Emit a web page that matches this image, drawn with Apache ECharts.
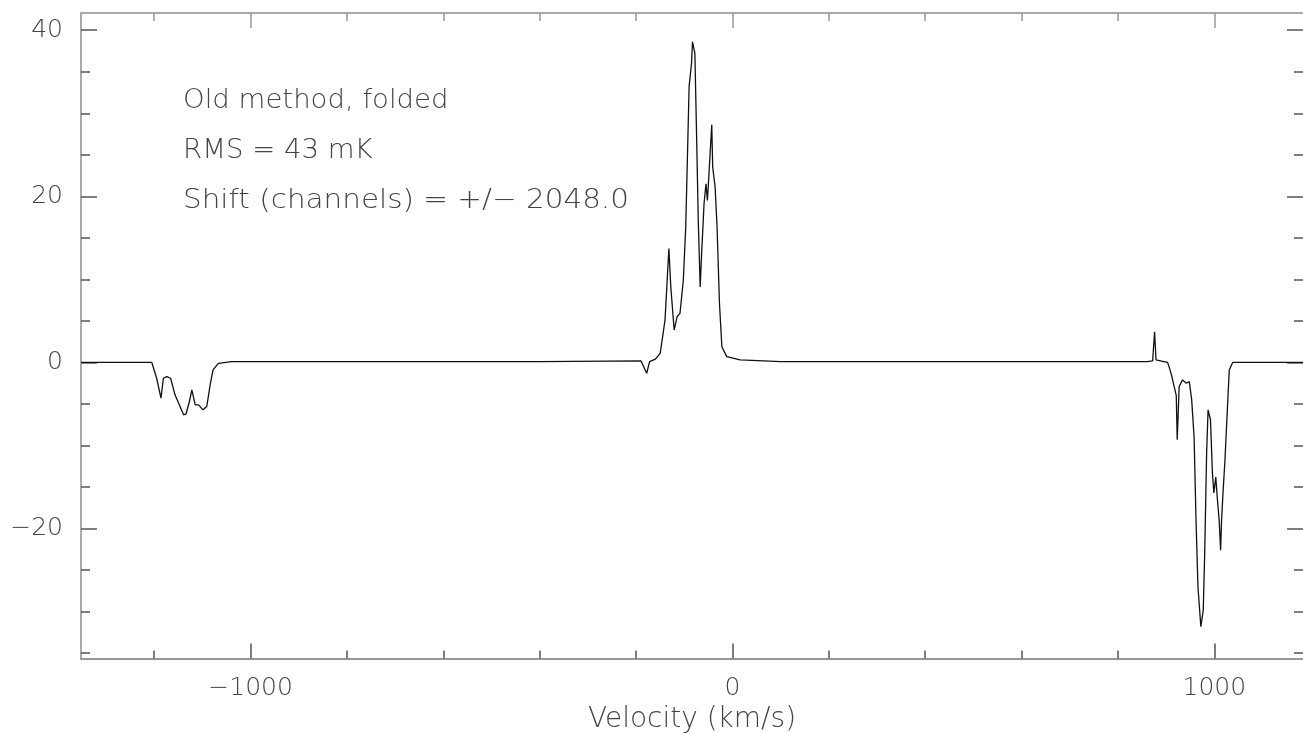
<!DOCTYPE html>
<html>
<head>
<meta charset="utf-8">
<script src="https://cdn.jsdelivr.net/npm/echarts@6/dist/echarts.min.js"></script>
<style>
  html, body { margin: 0; padding: 0; background: #fff; }
  #chart { width: 1303px; height: 733px; }
</style>
</head>
<body>
<div id="chart"></div>
<script>
// spectrum: velocity (km/s) and brightness
const velocity = [
  -1352, -1300, -1250, -1205, -1195, -1186, -1181, -1174, -1166, -1157,
  -1139, -1134, -1127, -1122, -1115, -1108, -1099, -1091, -1084, -1078,
  -1067, -1040, -900, -600, -400, -190, -178, -172, -160, -150,
  -140, -132, -128, -121, -115, -109, -102, -97, -93, -90,
  -85, -83, -78, -74, -71, -67, -64, -59, -55, -52,
  -48, -43, -41, -36, -32, -27, -22, -12, 16, 100,
  400, 700, 860, 872, 876, 879, 895, 903, 906, 911,
  915, 921, 923, 927, 934, 942, 948, 953, 958, 962,
  966, 972, 977, 980, 984, 987, 992, 996, 999, 1003,
  1006, 1010, 1013, 1015, 1018, 1022, 1027, 1031, 1038, 1053,
  1184
];
const brightness = [
  0, 0, 0, 0, -1.9, -4.3, -1.9, -1.7, -1.9, -3.9,
  -6.3, -6.2, -4.7, -3.3, -5.1, -5.1, -5.7, -5.3, -2.7, -0.9,
  -0.1, 0.1, 0.1, 0.1, 0.1, 0.2, -1.3, 0.1, 0.4, 1.1,
  5.1, 13.7, 9.1, 3.9, 5.5, 5.9, 9.9, 16.3, 25.9, 33.2,
  36, 38.6, 37.2, 25.9, 17.1, 9.1, 13.1, 19.1, 21.5, 19.5,
  23.5, 28.6, 23.5, 21.1, 16.3, 7.1, 1.9, 0.7, 0.3, 0.1,
  0.1, 0.1, 0.1, 0.2, 3.7, 0.3, 0.1, 0, -0.5, -1.5,
  -2.5, -4, -9.3, -2.9, -2.1, -2.5, -2.3, -4.5, -9, -19,
  -27, -31.8, -29.8, -23, -10.9, -5.7, -6.9, -13.3, -15.7, -13.8,
  -16.2, -19, -22.6, -19, -15.7, -11.8, -5.7, -0.9, 0, 0,
  0
];
const xMajor = [-1000, 0, 1000];
const xMinor = [-1200, -800, -600, -400, -200, 200, 400, 600, 800];
const yMajor = [-20, 0, 20, 40];
const yMinor = [-35, -30, -25, -15, -10, -5, 5, 10, 15, 25, 30, 35];
const notes = ['Old method, folded', 'RMS = 43 mK', 'Shift (channels) = +/\u2212 2048.0'];

const X_MIN = -1352, X_MAX = 1184;
const Y_MIN = -35.64, Y_MAX = 42.07;
const FONT = 'DejaVu Sans';
const TXT = '#444';
const minus = v => String(v).replace('-', '\u2212');

function xAx(pos, ticks, len, withLabels, line) {
  return {
    type: 'value', position: pos, min: X_MIN, max: X_MAX,
    axisLine: { show: line, onZero: false, lineStyle: { color: pos === 'bottom' ? '#777' : '#aaa', width: pos === 'bottom' ? 1.5 : 2 } },
    axisTick: { show: true, inside: true, length: len, customValues: ticks,
      lineStyle: { color: pos === 'bottom' ? '#555' : '#999', width: 1.5 } },
    axisLabel: { show: withLabels, customValues: ticks, formatter: minus, margin: 17,
      color: TXT, fontFamily: FONT, fontWeight: 200, fontSize: 25 },
    splitLine: { show: false },
    name: withLabels ? 'Velocity (km/s)' : '',
    nameLocation: 'middle', nameGap: 45,
    nameTextStyle: { color: TXT, fontFamily: FONT, fontWeight: 200, fontSize: 28 }
  };
}
function yAx(pos, ticks, len, withLabels, line) {
  return {
    type: 'value', position: pos, min: Y_MIN, max: Y_MAX,
    axisLine: { show: line, onZero: false, lineStyle: { color: '#aaa', width: 2 } },
    axisTick: { show: true, inside: true, length: len, customValues: ticks,
      lineStyle: { color: '#555', width: 1.5 } },
    axisLabel: { show: withLabels, customValues: ticks, formatter: minus, margin: 18,
      color: TXT, fontFamily: FONT, fontWeight: 200, fontSize: 25 },
    splitLine: { show: false }
  };
}

const chart = echarts.init(document.getElementById('chart'), null, { renderer: 'canvas' });
chart.setOption({
  animation: false,
  backgroundColor: '#fff',
  grid: { left: 81, right: 0, top: 13, bottom: 74.5, containLabel: false, outerBoundsMode: 'none' },
  xAxis: [
    xAx('bottom', xMajor, 15, true, true),
    xAx('bottom', xMinor, 8, false, false),
    xAx('top', xMajor, 15, false, true),
    xAx('top', xMinor, 8, false, false)
  ],
  yAxis: [
    yAx('left', yMajor, 16, true, true),
    yAx('left', yMinor, 9, false, false),
    yAx('right', yMajor, 16, false, false),
    yAx('right', yMinor, 9, false, false)
  ],
  graphic: notes.map((t, i) => ({
    type: 'text', left: 183, top: 87 + i * 50,
    scaleX: i === 2 ? 1.09 : 1.02,
    style: { text: t, fill: TXT, font: '200 27px "DejaVu Sans"' }
  })),
  series: [{
    type: 'line',
    xAxisIndex: 0, yAxisIndex: 0,
    data: velocity.map((v, i) => [v, brightness[i]]),
    showSymbol: false,
    lineStyle: { color: '#111', width: 1.3 }
  }]
});
</script>
</body>
</html>
